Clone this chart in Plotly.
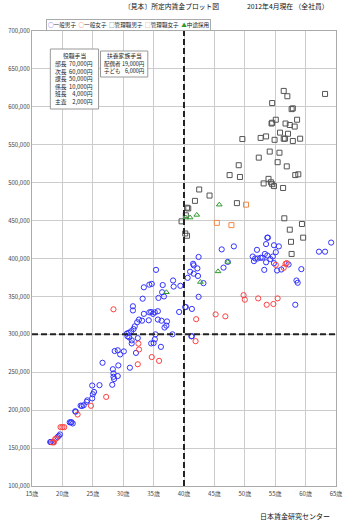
import plotly.graph_objects as go

# 年齢（歳）と所定内賃金（円）
male_age = [18.0, 18.1, 18.5, 19.2, 19.4, 19.6, 21.2, 21.4, 21.5, 21.7, 22.1, 22.2, 23.0, 23.2,
            23.5, 24.0, 24.1, 24.9, 25.0, 25.2, 24.9, 26.1, 26.6,
            28.2, 28.5, 28.4, 29.1, 28.4, 28.3, 29.2, 31.1,
            28.6, 29.1, 29.5, 30.1,
            30.7, 31.0, 31.4, 31.4,
            30.6, 30.9, 31.3, 31.7, 31.9,
            32.3, 32.6, 33.1, 34.2,
            33.4, 34.3, 34.6, 34.9, 35.2, 35.7,
            35.7, 36.3, 37.2, 37.1, 36.8,
            31.6, 31.6,
            33.2, 35.8, 36.7, 36.4,
            33.4, 34.3, 34.7, 36.5, 35.4,
            38.2, 38.3, 39.4, 39.2,
            32.4, 32.1, 34.6, 35.0, 35.2, 35.3, 36.2, 38.1,
            40.2, 40.3, 41.3, 41.2, 41.3,
            41.5, 41.6, 42.2, 41.0, 41.6, 42.3, 40.6, 42.4, 43.2, 42.4,
            46.2, 48.2, 46.5, 47.2,
            51.3, 51.7, 52.1, 52.6, 52.9, 51.5, 53.3, 53.7, 54.2, 53.5, 54.8, 53.2,
            55.3, 56.0, 57.2, 59.3, 55.1, 54.6, 52.0,
            53.7, 53.8, 53.5, 54.8, 55.6,
            64.2, 62.2, 63.2,
            58.5, 58.7, 58.3]
male_wage = [158000, 158000, 158000, 164500, 166000, 168000, 184000, 184000, 184000, 182500, 198500, 198000, 206000, 205500,
             206500, 211000, 213000, 215500, 221000, 224000, 232500, 233000, 262500,
             233500, 241000, 244000, 245000, 248500, 254000, 259000, 256000,
             278000, 279000, 273500, 277500,
             297500, 296000, 292000, 288000,
             301000, 302000, 304000, 307000, 310500,
             316000, 319500, 318000, 318500,
             327000, 329000, 329500, 327000, 329000, 330500,
             319500, 318000, 317000, 311500, 309000,
             337000, 331500,
             347000, 348000, 350000, 355500,
             362000, 365500, 366500, 365000, 385000,
             371000, 363000, 364000, 329500,
             295000, 275500, 288000, 288500, 293500, 300000, 283500, 300000,
             336000, 336000, 333500, 297500, 297500,
             393000, 391000, 387000, 382500, 380000, 377000, 374500, 402000, 367500, 349500,
             412000, 416000, 388000, 395500,
             402600, 400000, 400000, 401000, 401000, 396500, 406000, 404000, 399300, 395000, 393800, 385000,
             384200, 385500, 392100, 386000, 408400, 402600, 411400,
             427500, 427500, 419000, 417500, 416000,
             421000, 409000, 409000,
             371000, 368000, 339000]

female_age = [18.3, 18.6, 18.8, 19.0, 19.7, 20.0, 20.3, 22.5, 24.7, 27.2, 28.4,
              32.5, 32.6, 34.7, 35.9, 32.4,
              41.9, 42.0, 45.2, 46.8,
              49.8, 50.0, 52.2, 55.4, 53.6, 54.7,
              56.7, 56.9, 56.4, 55.1]
female_wage = [157500, 157500, 161800, 162800, 177600, 177600, 177600, 194300, 205800, 217500, 333000,
               287800, 280000, 270000, 265000, 260500,
               291000, 320000, 326300, 323700,
               351700, 345700, 347400, 347400, 339000, 340000,
               393000, 394000, 387700, 391600]

mgr_m_age = [56.4, 57.0, 54.5, 63.2, 57.7, 57.9, 55.1, 54.4, 54.5, 56.7, 57.4, 58.2, 58.6,
             49.6, 52.6, 53.5, 54.9, 55.8, 56.4, 56.6, 57.1, 57.9, 59.1,
             54.1, 55.7, 52.3, 55.4, 49.0, 56.9, 58.3, 58.8, 47.5, 49.2, 53.9, 53.1,
             54.3, 54.5, 54.8, 56.3,
             42.5, 44.2, 41.8, 48.7, 40.5, 40.7, 40.3, 39.6, 56.5, 57.4, 59.4,
             40.2, 40.5, 59.6, 57.6, 57.7]
mgr_m_wage = [621000, 614000, 605000, 617000, 597000, 598000, 583000, 578000, 579000, 578000, 576000, 574000, 583000,
              557500, 559000, 561000, 556500, 566000, 558000, 558000, 564500, 555000, 558000,
              541000, 539500, 533000, 527000, 523000, 521500, 510000, 511000, 510000, 507500, 505000, 499000,
              500500, 498000, 495500, 493000,
              491000, 483000, 476000, 473000, 467000, 466000, 457000, 449000, 453000, 438000, 445500,
              433000, 430000, 427500, 422000, 406000]

mgr_f_age = [50.2, 45.4, 47.8]
mgr_f_wage = [471000, 447000, 444000]

mid_age = [40.3, 41.0, 42.1, 45.8, 47.2, 45.6, 42.7, 37.1]
mid_wage = [454000, 454000, 457500, 471000, 395500, 383000, 369000, 355500]

age_ticks = list(range(15, 66, 5))
age_labels = [f"{a}歳" for a in age_ticks]

allow_title = "役職手当"
allow_names = ["部長", "次長", "課長", "係長", "班長", "主査"]
allow_amounts = ["70,000円", "60,000円", "50,000円", "10,000円", "4,000円", "2,000円"]
family_title = "扶養家族手当"
family_names = ["配偶者", "子ども"]
family_amounts = ["19,000円", "6,000円"]

FONT = "Noto Sans CJK JP"
W, H = 350, 520
L, R, T, B = 27, 8, 31, 34
PW, PH = W - L - R, H - T - B


def px(x):
    return (x - L) / PW


def py(y):
    return (H - B - y) / PH


fig = go.Figure()


def add_series(xs, ys, symbol, color, size=5.5):
    fig.add_trace(go.Scatter(
        x=xs, y=ys, mode="markers", showlegend=False,
        marker=dict(symbol=symbol, size=size, color=color,
                    line=dict(color=color, width=1)),
    ))


add_series(mgr_m_age, mgr_m_wage, "square-open", "#555555", 5)
add_series(mgr_f_age, mgr_f_wage, "square-open", "#f0884a", 5)
add_series(male_age, male_wage, "circle-open", "#3333ff", 5.2)
add_series(female_age, female_wage, "circle-open", "#ff4040", 5.2)
add_series(mid_age, mid_wage, "triangle-up-open", "#2e9a2e", 5)

# 基準線（40歳・300,000円）
dash = dict(color="#222222", width=2, dash="6px,3px")
fig.add_shape(type="line", xref="x", yref="y", x0=40, x1=40, y0=100000, y1=700000, line=dash)
fig.add_shape(type="line", xref="x", yref="y", x0=15, x1=65, y0=300000, y1=300000, line=dash)

annotations = []


def text(x, y, s, size=5.8, xanchor="left", yanchor="middle", align="left", color="#222222", **kw):
    annotations.append(dict(xref="paper", yref="paper", x=px(x), y=py(y), text=s,
                            showarrow=False, xanchor=xanchor, yanchor=yanchor, align=align,
                            font=dict(family=FONT, size=size, color=color), **kw))


# 手当の表
box_line = dict(color="#999999", width=1)
fig.add_shape(type="rect", xref="paper", yref="paper", x0=px(46), x1=px(96), y0=py(109), y1=py(49),
              line=box_line, fillcolor="white", layer="above")
fig.add_shape(type="rect", xref="paper", yref="paper", x0=px(98), x1=px(147), y0=py(77), y1=py(51),
              line=box_line, fillcolor="white", layer="above")
text(71, 55, allow_title, xanchor="center")
text(49, 82, "<br>".join(allow_names))
text(92, 82, "<br>".join(allow_amounts), xanchor="right", align="right")
text(122.5, 55, family_title, xanchor="center")
text(99.5, 67.5, "<br>".join(family_names), size=5.5)
text(146.5, 67.5, "<br>".join(family_amounts), size=5.5, xanchor="right", align="right")

# 凡例
legend_items = [("○", "#3333ff", "一般男子"), ("○", "#ff4040", "一般女子"),
                ("□", "#555555", "管理職男子"), ("□", "#f0884a", "管理職女子"),
                ("▲", "#2e9a2e", "中途採用")]
legend_text = "  ".join(f"<span style='color:{c}'>{s}</span>{n}" for s, c, n in legend_items)
text(127.5, 25, legend_text, size=5.6, xanchor="center", bordercolor="#aaaaaa", borderwidth=1,
     borderpad=1, bgcolor="white")

# 見出し・出典
text(172, 6, "〔見本〕所定内賃金プロット図", size=6.8, xanchor="center", color="#111111")
text(292, 6, "2012年4月現在 （全社員）", size=6.8, xanchor="center", color="#111111")
text(299, 516, "日本賃金研究センター", size=7, xanchor="center", color="#111111")

axis_common = dict(showgrid=True, gridcolor="#cccccc", gridwidth=1, zeroline=False,
                   showline=True, linecolor="#aaaaaa", linewidth=1, mirror=True, ticks="",
                   tickfont=dict(family=FONT, size=6, color="#444444"))

fig.update_layout(
    width=W, height=H,
    margin=dict(l=L, r=R, t=T, b=B),
    paper_bgcolor="white", plot_bgcolor="white",
    showlegend=False,
    annotations=annotations,
    xaxis=dict(range=[15, 65], tickvals=age_ticks, ticktext=age_labels, ticklabelstandoff=2, **axis_common),
    yaxis=dict(range=[100000, 700000], dtick=50000, tickformat=",", **axis_common),
)

fig.write_html("out.html")
